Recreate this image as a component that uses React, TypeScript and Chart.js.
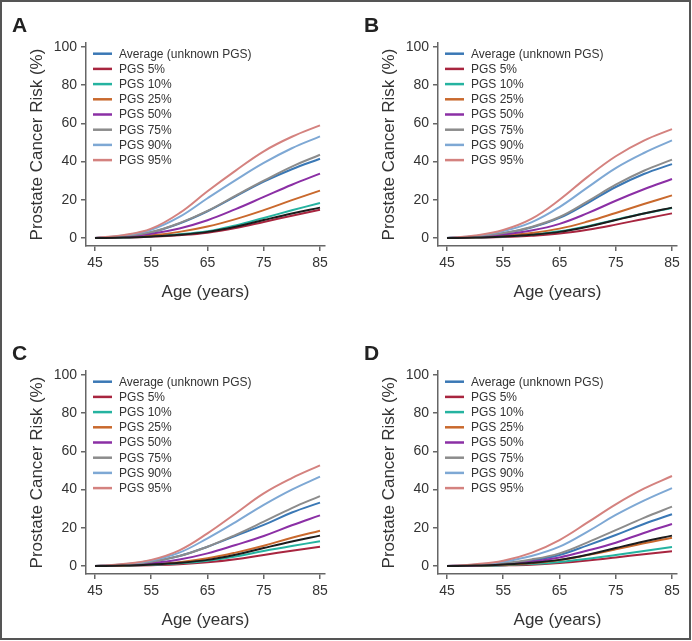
import React, { useEffect, useRef } from 'react';
import { Chart, registerables } from 'chart.js';

Chart.register(...registerables);

// ---- data ----
const AGES = [45, 50, 55, 60, 65, 70, 75, 80, 85];
const X_TICKS = [45, 55, 65, 75, 85];
const Y_TICKS = [0, 20, 40, 60, 80, 100];

const SERIES_LABELS = [
  'Average (unknown PGS)',
  'PGS 5%',
  'PGS 10%',
  'PGS 25%',
  'PGS 50%',
  'PGS 75%',
  'PGS 90%',
  'PGS 95%',
];
const SERIES_COLORS = ['#3a78b5', '#a8253f', '#25b3a0', '#c9692d', '#8b2fa5', '#8c8c8c', '#7ea8d4', '#d4827f'];
const REF_COLOR = '#1c1c1c';

// black reference curve (not in legend), same in every panel
const REF_LINE = [0, 0.2, 0.8, 1.7, 3.2, 5.9, 9.4, 12.8, 15.9];

// Panel A
const A_AVG = [0, 0.9, 3.0, 7.6, 14.0, 21.8, 29.5, 36.0, 41.5];
const A_P5 = [0, 0.2, 0.7, 1.5, 2.8, 5.2, 8.4, 11.7, 14.8];
const A_P10 = [0, 0.3, 0.9, 1.9, 3.5, 6.6, 10.5, 14.5, 18.3];
const A_P25 = [0, 0.5, 1.4, 3.2, 6.0, 9.9, 14.6, 19.8, 24.8];
const A_P50 = [0, 0.7, 2.2, 5.0, 9.3, 15.1, 21.5, 27.9, 33.7];
const A_P75 = [0, 1.0, 3.1, 7.8, 14.2, 22.2, 30.0, 37.4, 43.6];
const A_P90 = [0, 1.3, 4.3, 11.0, 20.8, 30.3, 39.3, 47.0, 53.2];
const A_P95 = [0, 1.5, 4.9, 13.0, 24.5, 35.3, 45.4, 53.0, 59.0];

// Panel B
const B_AVG = [0, 0.8, 2.5, 5.5, 10.5, 18.3, 26.7, 33.5, 38.7];
const B_P5 = [0, 0.2, 0.5, 1.2, 2.3, 4.3, 7.0, 10.0, 12.9];
const B_P10 = [0, 0.3, 0.8, 1.8, 3.5, 6.2, 9.6, 12.8, 15.7];
const B_P25 = [0, 0.4, 1.2, 2.6, 4.9, 8.6, 13.1, 17.8, 22.3];
const B_P50 = [0, 0.6, 1.8, 3.9, 7.4, 13.0, 19.5, 25.5, 30.9];
const B_P75 = [0, 0.8, 2.6, 5.8, 11.0, 19.2, 27.9, 35.2, 41.0];
const B_P90 = [0, 1.1, 3.6, 8.2, 16.2, 26.5, 36.6, 44.5, 51.1];
const B_P95 = [0, 1.3, 4.2, 10.0, 20.0, 32.0, 42.8, 51.0, 57.0];

// Panel C
const C_AVG = [0, 0.7, 2.2, 5.2, 10.1, 15.8, 21.5, 28.0, 33.2];
const C_P5 = [0, 0.1, 0.4, 0.9, 1.9, 3.5, 5.8, 8.0, 10.1];
const C_P10 = [0, 0.2, 0.6, 1.4, 2.8, 5.0, 7.9, 10.5, 12.9];
const C_P25 = [0, 0.3, 0.9, 2.0, 4.0, 7.0, 10.6, 14.8, 18.5];
const C_P50 = [0, 0.5, 1.5, 3.4, 6.6, 11.0, 15.7, 21.3, 26.5];
const C_P75 = [0, 0.7, 2.2, 5.2, 10.1, 16.3, 23.2, 30.3, 36.6];
const C_P90 = [0, 0.9, 2.9, 7.0, 14.5, 23.0, 32.0, 40.0, 46.8];
const C_P95 = [0, 1.0, 3.2, 8.2, 17.1, 27.5, 38.0, 46.0, 52.7];

// Panel D
const D_AVG = [0, 0.4, 1.3, 2.9, 5.8, 10.8, 16.2, 22.0, 27.1];
const D_P5 = [0, 0.1, 0.3, 0.7, 1.6, 2.9, 4.5, 6.2, 7.7];
const D_P10 = [0, 0.1, 0.4, 1.0, 2.1, 3.8, 5.8, 7.9, 9.9];
const D_P25 = [0, 0.2, 0.7, 1.5, 3.1, 5.7, 8.7, 11.9, 14.8];
const D_P50 = [0, 0.3, 1.0, 2.3, 4.5, 8.1, 12.2, 17.3, 22.0];
const D_P75 = [0, 0.5, 1.5, 3.4, 6.6, 12.4, 18.8, 25.2, 31.1];
const D_P90 = [0, 0.7, 2.2, 5.2, 10.1, 18.0, 26.7, 34.2, 40.8];
const D_P95 = [0, 0.9, 2.8, 6.9, 13.6, 22.8, 32.3, 40.5, 47.1];

const X_TITLE = 'Age (years)';
const Y_TITLE = 'Prostate Cancer Risk (%)';

const FONT = '"Liberation Sans", Arial, Helvetica, sans-serif';
const AXIS_COLOR = '#666666';
const TEXT_COLOR = '#333333';

const PANEL_W = 340;
const PANEL_H = 313;

type PanelProps = { letter: string; series: number[][]; left: number; top: number };

const legendPlugin = {
  id: 'inlineLegend',
  afterDraw(chart: any) {
    const ctx = chart.ctx;
    const area = chart.chartArea;
    const letter = chart.options.plugins.inlineLegend.letter;
    ctx.save();
    // panel letter
    ctx.font = `bold 21px ${FONT}`;
    ctx.fillStyle = '#222222';
    ctx.textAlign = 'left';
    ctx.textBaseline = 'alphabetic';
    ctx.fillText(letter, 12, 31.5);
    // legend
    ctx.font = `12px ${FONT}`;
    ctx.textBaseline = 'middle';
    let row = 0;
    chart.data.datasets.forEach((ds: any) => {
      if (!ds.label) return;
      const y = area.top + 10.7 + row * 15.2;
      ctx.strokeStyle = ds.borderColor;
      ctx.lineWidth = 2.5;
      ctx.beginPath();
      ctx.moveTo(area.left + 7, y);
      ctx.lineTo(area.left + 26, y);
      ctx.stroke();
      ctx.fillStyle = TEXT_COLOR;
      ctx.fillText(ds.label, area.left + 33, y + 0.5);
      row++;
    });
    ctx.restore();
  },
};

function Panel({ letter, series, left, top }: PanelProps) {
  const ref = useRef<HTMLCanvasElement | null>(null);
  useEffect(() => {
    if (!ref.current) return;
    const datasets: any[] = [
      {
        label: '',
        data: AGES.map((a, i) => ({ x: a, y: REF_LINE[i] })),
        borderColor: REF_COLOR,
        borderWidth: 2,
        pointRadius: 0,
        tension: 0.4,
        order: 0,
      },
    ];
    series.forEach((s, k) => {
      datasets.push({
        label: SERIES_LABELS[k],
        data: AGES.map((a, i) => ({ x: a, y: s[i] })),
        borderColor: SERIES_COLORS[k],
        borderWidth: 2,
        pointRadius: 0,
        tension: 0.4,
        order: 8 - k,
      });
    });
    const tickFont = { size: 14, family: FONT };
    const titleFont = { size: 17, family: FONT };
    const chart = new Chart(ref.current, {
      type: 'line',
      data: { datasets },
      plugins: [legendPlugin],
      options: {
        animation: false,
        responsive: false,
        maintainAspectRatio: false,
        events: [],
        layout: { padding: { left: 0, top: 43, right: 15, bottom: 0 } },
        plugins: {
          legend: { display: false },
          tooltip: { enabled: false },
          inlineLegend: { letter },
        } as any,
        scales: {
          x: {
            type: 'linear',
            min: 43.4,
            max: 85.89,
            afterFit: (s: any) => {
              s.height = 67;
            },
            afterBuildTicks: (s: any) => {
              s.ticks = X_TICKS.map((v) => ({ value: v }));
            },
            ticks: { color: TEXT_COLOR, font: tickFont, padding: 4, maxRotation: 0, autoSkip: false },
            grid: { display: true, drawOnChartArea: false, drawTicks: true, tickLength: 5, color: AXIS_COLOR, lineWidth: 1.5 },
            border: { display: true, color: AXIS_COLOR, width: 1.5 },
            title: { display: true, text: X_TITLE, color: TEXT_COLOR, font: titleFont, padding: { top: 0, bottom: 10.8 } },
          },
          y: {
            type: 'linear',
            min: -4.19,
            max: 102.09,
            afterFit: (s: any) => {
              s.width = 86;
            },
            afterBuildTicks: (s: any) => {
              s.ticks = Y_TICKS.map((v) => ({ value: v }));
            },
            ticks: { color: TEXT_COLOR, font: tickFont, padding: 4, autoSkip: false },
            grid: { display: true, drawOnChartArea: false, drawTicks: true, tickLength: 5, color: AXIS_COLOR, lineWidth: 1.5 },
            border: { display: true, color: AXIS_COLOR, width: 1.5 },
            title: { display: true, text: Y_TITLE, color: TEXT_COLOR, font: titleFont, padding: { top: 26.8, bottom: 0 } },
          },
        },
      } as any,
    });
    return () => chart.destroy();
  }, [letter, series]);
  return (
    <canvas
      ref={ref}
      width={PANEL_W}
      height={PANEL_H}
      style={{ position: 'absolute', left, top, width: PANEL_W, height: PANEL_H, display: 'block' }}
    />
  );
}

const PANEL_A = [A_AVG, A_P5, A_P10, A_P25, A_P50, A_P75, A_P90, A_P95];
const PANEL_B = [B_AVG, B_P5, B_P10, B_P25, B_P50, B_P75, B_P90, B_P95];
const PANEL_C = [C_AVG, C_P5, C_P10, C_P25, C_P50, C_P75, C_P90, C_P95];
const PANEL_D = [D_AVG, D_P5, D_P10, D_P25, D_P50, D_P75, D_P90, D_P95];

export default function App() {
  return (
    <div style={{ position: 'absolute', left: 0, top: 0, width: 692, height: 641, background: '#ffffff', overflow: 'hidden' }}>
      <div
        style={{
          position: 'absolute',
          left: 0,
          top: 0,
          width: 691,
          height: 640,
          boxSizing: 'border-box',
          border: '2px solid #555555',
        }}
      />
      <Panel letter="A" series={PANEL_A} left={0} top={0} />
      <Panel letter="B" series={PANEL_B} left={352} top={0} />
      <Panel letter="C" series={PANEL_C} left={0} top={328} />
      <Panel letter="D" series={PANEL_D} left={352} top={328} />
    </div>
  );
}
